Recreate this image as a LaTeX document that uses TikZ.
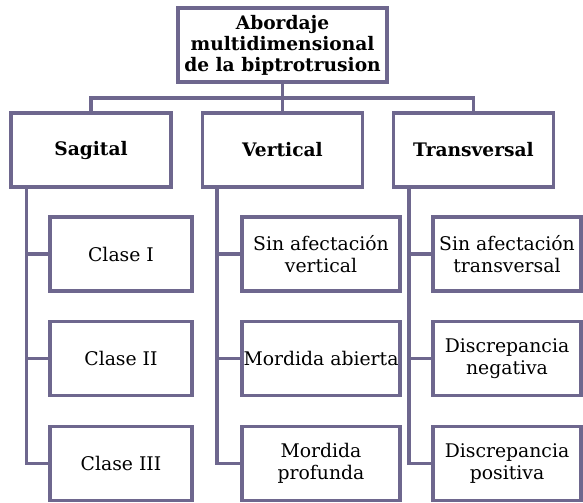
\documentclass[tikz,border=0pt]{standalone}
\usepackage{fontspec}
\setmainfont{DejaVu Serif}
\usepackage{tikz}
\usetikzlibrary{arrows}
\definecolor{lnc}{RGB}{110,103,142}

\begin{document}
\begin{tikzpicture}[
        box/.style={draw=lnc, line width=1.8pt, rectangle, inner sep=0pt, minimum height=1.48cm, align=center, font=\fontsize{10.7}{12.4}\selectfont},
        head/.style={box, minimum width=3.2cm, font=\fontsize{10.6}{12}\selectfont\bfseries},
        link/.style={draw=lnc, line width=1.8pt}]
        \useasboundingbox (0,0) rectangle (11.66,-10.04);

        \node[head, minimum width=4.18cm](ABD) at (5.65,-0.9){Abordaje\\multidimensional\\de la biptrotrusion};

        \node[head, below of=ABD, node distance=2.1cm](VER){Vertical};
        \node[head, left of=VER, node distance=3.83cm](SAG){Sagital};
        \node[head, right of=VER, node distance=3.82cm](TRA){Transversal};

        \coordinate[below of=ABD, node distance=1.06cm](BUS);
        \path[link] (ABD.south) -- (VER.north);
        \path[link] (SAG.north) |- (BUS) -| (TRA.north);

        \node[box, minimum width=2.84cm, below of=SAG, node distance=2.08cm, xshift=0.6cm](SAG1){Clase I};
        \node[box, minimum width=2.84cm, below of=SAG1, node distance=2.09cm](SAG2){Clase II};
        \node[box, minimum width=2.84cm, below of=SAG2, node distance=2.1cm](SAG3){Clase III};

        \node[box, minimum width=3.16cm, below of=VER, node distance=2.08cm, xshift=0.77cm](VER1){Sin afectación\\vertical};
        \node[box, minimum width=3.16cm, below of=VER1, node distance=2.09cm](VER2){Mordida abierta};
        \node[box, minimum width=3.16cm, below of=VER2, node distance=2.1cm](VER3){Mordida\\profunda};

        \node[box, minimum width=2.96cm, below of=TRA, node distance=2.08cm, xshift=0.67cm](TRA1){Sin afectación\\transversal};
        \node[box, minimum width=2.96cm, below of=TRA1, node distance=2.09cm](TRA2){Discrepancia\\negativa};
        \node[box, minimum width=2.96cm, below of=TRA2, node distance=2.1cm](TRA3){Discrepancia\\positiva};

        \path[link] ([xshift=0.34cm]SAG.south west) |- (SAG3.west);
        \path[link] ([xshift=0.34cm]SAG.south west) |- (SAG1.west);
        \path[link] ([xshift=0.34cm]SAG.south west) |- (SAG2.west);

        \path[link] ([xshift=0.32cm]VER.south west) |- (VER3.west);
        \path[link] ([xshift=0.32cm]VER.south west) |- (VER1.west);
        \path[link] ([xshift=0.32cm]VER.south west) |- (VER2.west);

        \path[link] ([xshift=0.34cm]TRA.south west) |- (TRA3.west);
        \path[link] ([xshift=0.34cm]TRA.south west) |- (TRA1.west);
        \path[link] ([xshift=0.34cm]TRA.south west) |- (TRA2.west);
    \end{tikzpicture}
\end{document}
